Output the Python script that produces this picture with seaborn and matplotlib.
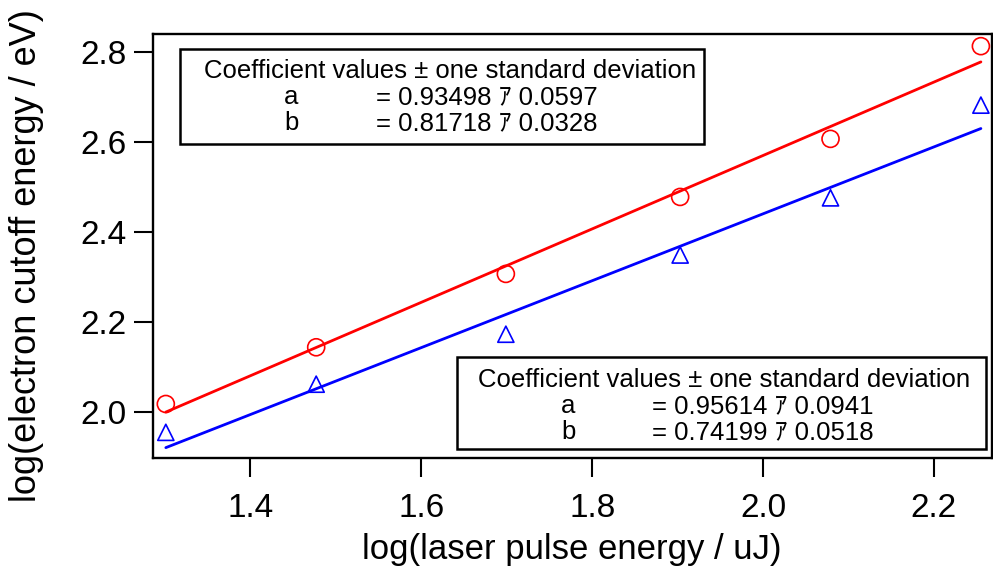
import matplotlib
matplotlib.use("Agg")
import matplotlib.pyplot as plt
from matplotlib.patches import Rectangle
import seaborn as sns
import numpy as np

# ---- data ----
laser_log = [1.301, 1.477, 1.699, 1.903, 2.079, 2.255]
red_cutoff = [2.018, 2.144, 2.307, 2.478, 2.607, 2.813]
blue_cutoff = [1.955, 2.062, 2.173, 2.349, 2.476, 2.682]

fit_x = [1.301, 2.255]
red_fit_y = [2.000, 2.778]
blue_fit_y = [1.921, 2.630]

x_ticks = [1.4, 1.6, 1.8, 2.0, 2.2]
y_ticks = [2.0, 2.2, 2.4, 2.6, 2.8]

box_title = "Coefficient values \u00b1 one standard deviation"
upper_a = "= 0.93498 \uff71 0.0597"
upper_b = "= 0.81718 \uff71 0.0328"
lower_a = "= 0.95614 \uff71 0.0941"
lower_b = "= 0.74199 \uff71 0.0518"

xlabel = "log(laser pulse energy / uJ)"
ylabel = "log(electron cutoff energy / eV)"

# ---- figure ----
sns.set_theme(style="ticks")
plt.rcParams["font.family"] = ["Liberation Sans", "Noto Sans CJK JP", "DejaVu Sans"]
plt.rcParams["text.color"] = "black"
plt.rcParams["axes.labelcolor"] = "black"

W, H = 993, 574
fig = plt.figure(figsize=(W / 100, H / 100), dpi=100)
ax = fig.add_axes([153 / W, 1 - 458 / H, (992 - 153) / W, (458 - 34) / H])

sns.lineplot(x=fit_x, y=red_fit_y, color="#ff0000", linewidth=2.0, ax=ax, estimator=None)
sns.lineplot(x=fit_x, y=blue_fit_y, color="#0000ff", linewidth=2.0, ax=ax, estimator=None)
sns.scatterplot(x=laser_log, y=red_cutoff, marker="o", s=150, color="#ff0000",
                facecolor="none", edgecolor="#ff0000", linewidth=1.2, ax=ax, zorder=3)
sns.scatterplot(x=laser_log, y=blue_cutoff, marker="^", s=135, color="#0000ff",
                facecolor="none", edgecolor="#0000ff", linewidth=1.2, ax=ax, zorder=3)

ax.set_xlim(1.286, 2.268)
ax.set_ylim(1.898, 2.840)
ax.set_xticks(x_ticks)
ax.set_yticks(y_ticks)
ax.set_xticklabels([f"{v:.1f}" for v in x_ticks])
ax.set_yticklabels([f"{v:.1f}" for v in y_ticks])
ax.tick_params(axis="both", direction="out", length=14, width=1.5, labelsize=24,
               colors="black")
ax.tick_params(axis="x", pad=11)
ax.tick_params(axis="y", pad=5)
for sp in ax.spines.values():
    sp.set_visible(True)
    sp.set_linewidth(1.7)
    sp.set_color("black")

fig.text(572 / W, 1 - 550 / H, xlabel, fontsize=25, ha="center", va="center")
fig.text(27 / W, 1 - 256 / H, ylabel, fontsize=26, ha="center", va="center", rotation=90)

# ---- coefficient boxes ----
def coef_box(x0, y0, x1, y1, title_x, letter_x, eq_x, baselines, a_txt, b_txt):
    rect = Rectangle((x0 / W, 1 - y1 / H), (x1 - x0) / W, (y1 - y0) / H,
                     transform=fig.transFigure, facecolor="white", edgecolor="black",
                     linewidth=1.8, zorder=5)
    fig.add_artist(rect)
    kw = dict(fontsize=18.5, va="baseline", ha="left", zorder=6, color="black")
    fig.text(title_x / W, 1 - baselines[0] / H, box_title, **kw)
    fig.text(letter_x / W, 1 - baselines[1] / H, "a", **kw)
    fig.text(eq_x / W, 1 - baselines[1] / H, a_txt, **kw)
    fig.text(letter_x / W, 1 - baselines[2] / H, "b", **kw)
    fig.text(eq_x / W, 1 - baselines[2] / H, b_txt, **kw)

coef_box(180, 49, 704, 144, 204, 284, 376, (78, 104, 130), upper_a, upper_b)
coef_box(457, 357, 986, 449, 478, 561, 652, (387, 413, 439), lower_a, lower_b)

fig.savefig("out.png", dpi=100)
